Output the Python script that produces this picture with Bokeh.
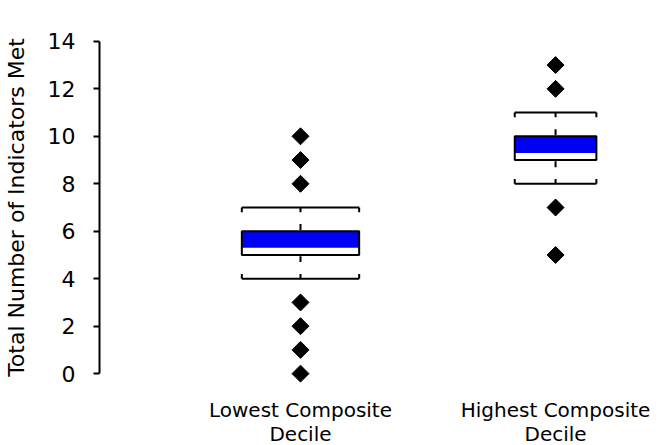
import math
from bokeh.plotting import figure
from bokeh.models import Range1d, FixedTicker
from bokeh.embed import file_html
from bokeh.resources import INLINE

# ---- data ----
categories = ["Lowest Composite\nDecile", "Highest Composite\nDecile"]
positions = [1, 2]
q1 = [5, 9]
q3 = [6, 10]
box_split = [5.3, 9.3]
whisker_low = [4, 8]
whisker_high = [7, 11]
box_widths = [0.46, 0.32]
outliers_low_group = [0, 1, 2, 3, 8, 9, 10]
outliers_high_group = [5, 7, 12, 13]
y_ticks = [0, 2, 4, 6, 8, 10, 12, 14]

BLUE = "#0000F5"
TICK = 0.2
FONT = "DejaVu Sans"

p = figure(frame_width=566, frame_height=356,
           x_range=Range1d(0.212, 2.431), y_range=Range1d(-0.5, 14.5),
           output_backend="svg", toolbar_location=None,
           min_border_left=97, min_border_right=0, min_border_top=29,
           min_border_bottom=30)
p.outline_line_color = None
p.grid.visible = False
p.background_fill_color = "white"

# whiskers
wx0, wx1, wy = [], [], []
tx0, ty0, tx1, ty1 = [], [], [], []
for xc, w, lo, hi, a, b in zip(positions, box_widths, whisker_low, whisker_high, q1, q3):
    left, right = xc - w / 2, xc + w / 2
    for yv, d in ((lo, 1), (hi, -1)):
        wx0.append(left); wx1.append(right); wy.append(yv)
        for xx in (left, xc, right):
            tx0.append(xx); tx1.append(xx); ty0.append(yv); ty1.append(yv + d * TICK)
    # centre ticks on the box
    tx0 += [xc, xc]; tx1 += [xc, xc]
    ty0 += [b + 0.05, a - 0.05]; ty1 += [b + 0.3, a - 0.3]

p.segment(x0=wx0, y0=wy, x1=wx1, y1=wy, line_color="black", line_width=2)
p.segment(x0=tx0, y0=ty0, x1=tx1, y1=ty1, line_color="black", line_width=2)

lefts = [x - w / 2 for x, w in zip(positions, box_widths)]
rights = [x + w / 2 for x, w in zip(positions, box_widths)]
p.quad(left=lefts, right=rights, bottom=q1, top=q3, fill_color="white", line_color=None)
p.quad(left=lefts, right=rights, bottom=box_split, top=q3, fill_color=BLUE, line_color=None)
p.quad(left=lefts, right=rights, bottom=q1, top=q3, fill_color=None, line_color="black", line_width=2)

ox = [positions[0]] * len(outliers_low_group) + [positions[1]] * len(outliers_high_group)
oy = outliers_low_group + outliers_high_group
p.scatter(ox, oy, marker="square", angle=math.pi / 4, size=12, color="black")

# y axis
ya = p.yaxis[0]
ya.ticker = FixedTicker(ticks=y_ticks)
ya.bounds = (0, 14)
ya.axis_line_width = 2
ya.axis_line_color = "black"
ya.major_tick_line_width = 2
ya.major_tick_out = 6
ya.major_tick_in = 0
ya.minor_tick_line_color = None
ya.major_label_text_font = FONT
ya.major_label_text_font_size = "22px"
ya.major_label_text_color = "black"
ya.major_label_standoff = 18
ya.axis_label = "Total Number of Indicators Met"
ya.axis_label_text_font = FONT
ya.axis_label_text_font_size = "22px"
ya.axis_label_text_font_style = "normal"
ya.axis_label_text_color = "black"
ya.axis_label_standoff = 16

# x axis
xa = p.xaxis[0]
xa.ticker = FixedTicker(ticks=positions)
xa.major_label_overrides = {pos: lab for pos, lab in zip(positions, categories)}
xa.axis_line_color = None
xa.major_tick_line_color = None
xa.minor_tick_line_color = None
xa.major_label_text_font = FONT
xa.major_label_text_font_size = "20px"
xa.major_label_text_line_height = 1.0
xa.major_label_text_color = "black"
xa.major_label_standoff = 6

open("out.html", "w").write(file_html(p, INLINE))
